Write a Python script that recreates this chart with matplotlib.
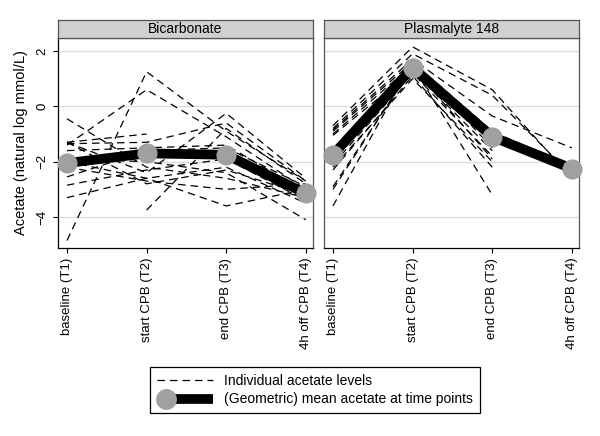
import numpy as np
import matplotlib.pyplot as plt
from matplotlib.lines import Line2D

plt.rcParams['font.family'] = ['Liberation Sans', 'DejaVu Sans']

times = [1, 2, 3, 4]
time_labels = ['baseline (T1)', 'start CPB (T2)', 'end CPB (T3)', '4h off CPB (T4)']
nan = np.nan

# individual acetate levels (natural log), one row per patient
bicarb = [
    [-4.85, 1.25, -0.9, -2.7],
    [-1.4, 0.6, -1.1, -3.0],
    [-0.45, -2.2, -2.6, -3.3],
    [-1.3, -1.0, nan, nan],
    [-1.35, -1.3, -0.6, -2.7],
    [-1.3, -2.4, -0.25, -2.6],
    [nan, -3.75, -0.8, -2.8],
    [-1.6, -1.5, -1.4, -3.1],
    [-2.55, -1.6, -1.5, -2.9],
    [-2.85, -2.3, -1.9, -3.4],
    [-3.3, -2.6, -2.2, -3.5],
    [-2.0, -2.6, -3.6, -3.0],
    [-1.9, -2.0, -2.4, -4.1],
    [-1.3, -2.8, -2.3, -3.2],
    [-2.2, -2.7, -3.0, -2.8],
]
plasma = [
    [-0.7, 2.15, 0.6, -2.6],
    [-0.8, 1.9, 0.4, -2.5],
    [-0.85, 1.7, -0.35, -1.5],
    [-0.9, 1.6, -0.9, -2.2],
    [-1.0, 1.5, -1.3, nan],
    [-1.05, 1.3, -1.6, nan],
    [-2.1, 1.2, -1.8, nan],
    [-2.2, 1.0, -2.0, nan],
    [-2.3, 1.1, -2.2, nan],
    [-2.9, 1.4, -1.9, nan],
    [-3.0, 1.45, -3.2, nan],
    [-3.6, 1.6, -1.5, nan],
]

# (geometric) mean at time points
bicarb_mean = [-2.05, -1.7, -1.75, -3.15]
plasma_mean = [-1.75, 1.4, -1.1, -2.25]

groups = ['Bicarbonate', 'Plasmalyte 148']
dot_color = '#a0a0a0'


class MeanHandler:
    # thick bar with the grey dot at its left end, like the original key
    def legend_artist(self, legend, orig_handle, fontsize, handlebox):
        x0, y0 = -handlebox.xdescent, -handlebox.ydescent
        w, h = handlebox.width, handlebox.height
        bar = Line2D([x0 + 6, x0 + w], [y0 + h / 2] * 2, color='black', lw=7,
                     solid_capstyle='butt')
        dot = Line2D([x0 + 6], [y0 + h / 2], marker='o', ms=14, color=dot_color,
                     mec=dot_color, lw=0)
        handlebox.add_artist(bar)
        handlebox.add_artist(dot)
        return bar


fig = plt.figure(figsize=(6, 4.36), dpi=100)

panels = [(bicarb, bicarb_mean), (plasma, plasma_mean)]
lefts = [58 / 600, 324 / 600]
W, H = 600, 436
for k, (data, mean) in enumerate(panels):
    ax = fig.add_axes([lefts[k], (H - 248) / H, 255 / W, 210 / H])
    for row in data:
        ax.plot(times, row, color='black', lw=0.9, dashes=(6, 4))
    ax.plot(times, mean, color='black', lw=7, solid_capstyle='butt', zorder=3)
    ax.plot(times, mean, 'o', color=dot_color, ms=13.5, mec=dot_color, zorder=4,
            clip_on=False)
    ax.set_xlim(0.887, 4.09)
    ax.set_ylim(-5.12, 2.47)
    ax.set_yticks([-4, -2, 0, 2])
    ax.grid(axis='y', color='#dddddd', lw=1)
    ax.set_axisbelow(True)
    ax.set_xticks(times)
    ax.set_xticklabels(time_labels, rotation=90, fontsize=9.5)
    for s in ax.spines.values():
        s.set_color('#555555')
        s.set_linewidth(0.9)
    ax.spines['bottom'].set_color('black')
    if k == 0:
        ax.set_yticklabels(['\u22124', '\u22122', '0', '2'], rotation=90, va='center', fontsize=9.5)
        ax.spines['left'].set_color('black')
        ax.set_ylabel('Acetate (natural log mmol/L)', fontsize=10.5, labelpad=6)
    else:
        ax.tick_params(axis='y', length=0, labelleft=False)
    # header strip
    sax = fig.add_axes([lefts[k], (H - 38) / H, 255 / W, 18 / H])
    sax.set_facecolor('#d0d0d0')
    sax.set_xticks([])
    sax.set_yticks([])
    for s in sax.spines.values():
        s.set_color('#555555')
        s.set_linewidth(0.9)
    sax.text(0.5, 0.5, groups[k], ha='center', va='center', fontsize=10, transform=sax.transAxes)

indiv_handle = Line2D([], [], color='black', lw=0.9, dashes=(6, 4))
mean_handle = Line2D([], [], color='black')
leg = fig.legend([indiv_handle, mean_handle],
                 ['Individual acetate levels', '(Geometric) mean acetate at time points'],
                 handler_map={mean_handle: MeanHandler()},
                 loc='center', bbox_to_anchor=(315 / W, 1 - 390 / H), fontsize=10,
                 handlelength=4, fancybox=False, edgecolor='black', framealpha=1,
                 borderpad=0.5, labelspacing=0.35)
leg.get_frame().set_linewidth(0.9)

fig.savefig('out.png', dpi=100)
